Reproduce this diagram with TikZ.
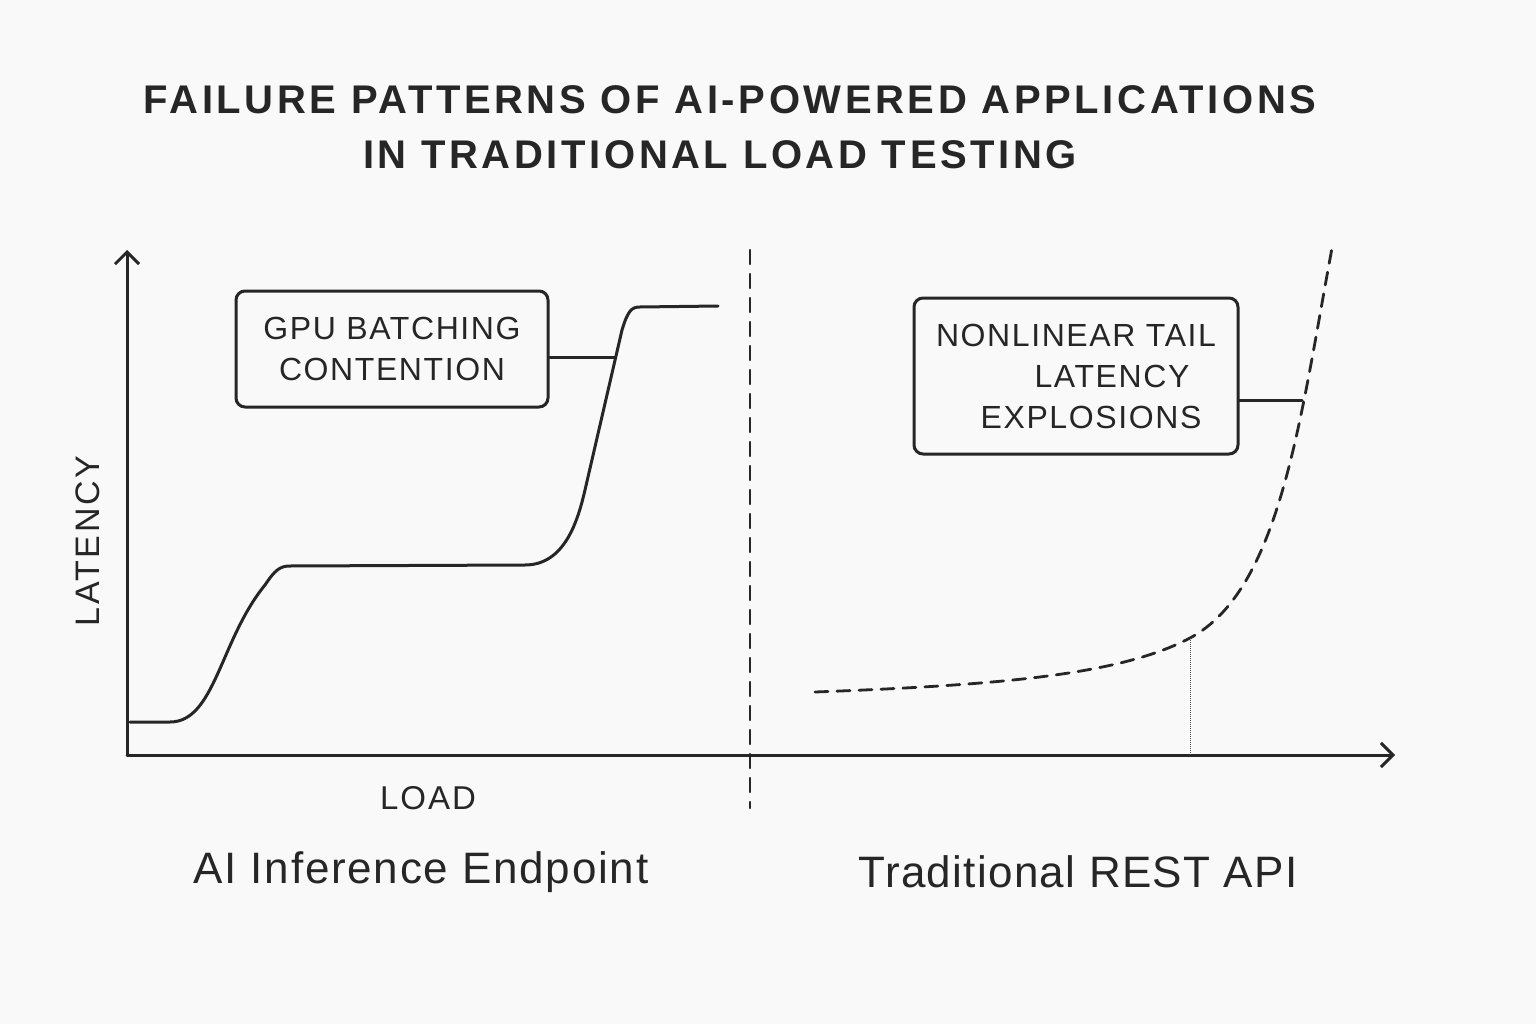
\documentclass[tikz,border=0pt]{standalone}
\usepackage{fontspec}
\setmainfont{Liberation Sans}
\usetikzlibrary{arrows.meta}
\begin{document}
\begin{tikzpicture}[x=1pt,y=-1pt,
  ln/.style={line width=3pt,draw=black!85,line cap=round,line join=round},
  lbox/.style={draw=black!85,line width=3pt,rounded corners=9pt,align=center,font=\fontsize{32}{41}\selectfont\addfontfeature{LetterSpace=5},text=black!85},
  ttl/.style={font=\bfseries\fontsize{40}{46}\selectfont\addfontfeature{LetterSpace=9},text=black!85,align=center}]
\fill[gray!5] (0,0) rectangle (1536,1024);
\useasboundingbox (0,0) rectangle (1536,1024);
\node[ttl] (t1) at (730,100) {FAILURE PATTERNS OF AI-POWERED APPLICATIONS};
\node[ttl] (t2) at (720,155) {IN TRADITIONAL LOAD TESTING};
\coordinate (o) at (127,755);
\coordinate (yt) at (127,250);
\coordinate (xt) at (1395,755);
\draw[ln,-{Straight Barb[length=12pt,width=24pt]}] (o) -- (yt);
\draw[ln,-{Straight Barb[length=12pt,width=24pt]}] (o) -- (xt);
\node[rotate=90,font=\fontsize{34}{38}\selectfont\addfontfeature{LetterSpace=8},text=black!85] (lat) at (88,541) {LATENCY};
\node[font=\fontsize{33}{38}\selectfont\addfontfeature{LetterSpace=6},text=black!85] (load) at (428,798) {LOAD};
\coordinate (d1) at (750,250); \coordinate (d2) at (750,808);
\draw[ln,dash pattern=on 14pt off 10pt,line width=2.4pt] (d1) -- (d2);
% left curve
\coordinate (c0) at (130,722);
\coordinate (c1) at (290,566);
\coordinate (c2) at (525,565);
\coordinate (c3) at (640,307);
\coordinate (c4) at (718,306);
\draw[ln] (c0) -- (170,722) .. controls (215,722) and (220,640) .. (265,585)
  .. controls (275,570) and (280,566) .. (c1) -- (c2)
  .. controls (565,565) and (578,520) .. (585,490)
  -- (622,330) .. controls (628,310) and (632,307) .. (c3) -- (c4);
\node[lbox,minimum width=312pt,minimum height=116pt] (b1) at (392,349) {GPU BATCHING\\CONTENTION};
\coordinate (p1) at (615,357);
\draw[ln] (b1.east |- p1) -- (p1);
% right curve
\coordinate (r0) at (815,692);
\coordinate (r1) at (1190,638);
\coordinate (r2) at (1332,248);
\draw[ln,dash pattern=on 13pt off 9pt,line width=2.8pt] (r0) .. controls (1000,685) and (1120,675) .. (r1)
  .. controls (1280,590) and (1300,420) .. (r2);
\coordinate (rb) at (1190,755);
\draw[black!70,densely dotted,line width=1pt] (r1) -- (rb);
\node[lbox,minimum width=324pt,minimum height=156pt] (b2) at (1076,376) {NONLINEAR TAIL\\\hspace*{72pt}LATENCY\\\hspace*{30pt}EXPLOSIONS};
\coordinate (p2) at (1302,400);
\draw[ln] (b2.east |- p2) -- (p2);
\node[font=\fontsize{44}{50}\selectfont\addfontfeature{LetterSpace=4},text=black!85] (cap1) at (421,872) {AI Inference Endpoint};
\node[font=\fontsize{44}{50}\selectfont\addfontfeature{LetterSpace=3},text=black!85] (cap2) at (1078,872) {Traditional REST API};
\end{tikzpicture}
\end{document}
